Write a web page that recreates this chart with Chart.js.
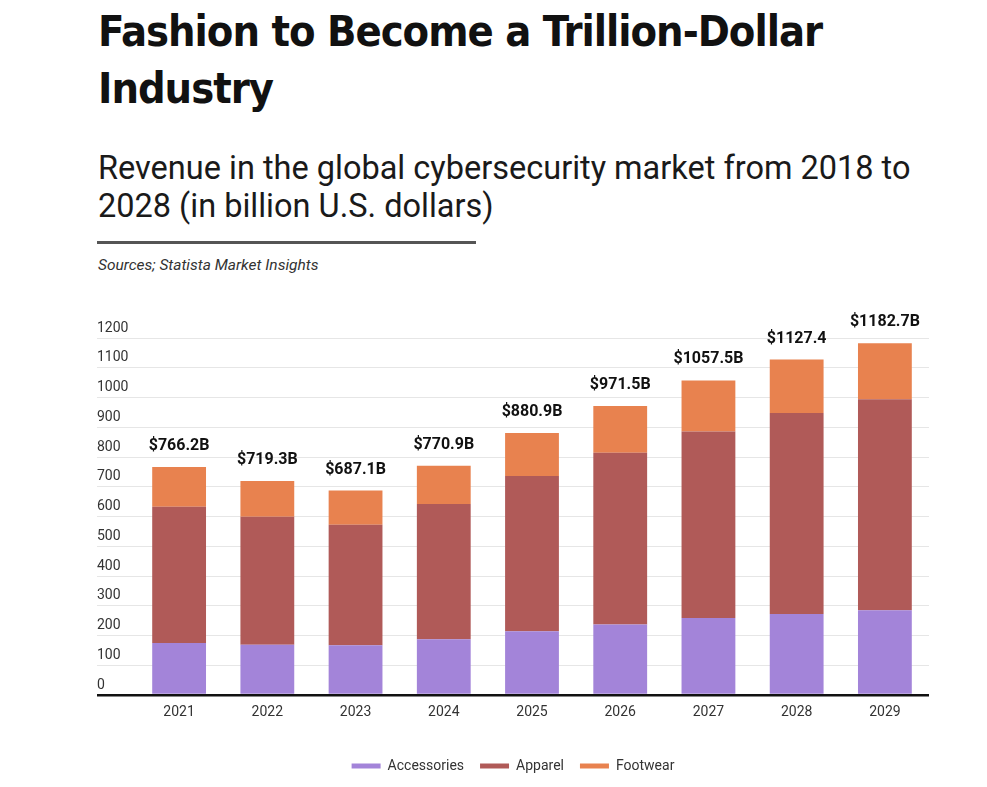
<!DOCTYPE html>
<html>
<head>
<meta charset="utf-8">
<script src="https://cdn.jsdelivr.net/npm/chart.js@4.4.0/dist/chart.umd.min.js"></script>
<style>
  body { margin: 0; background: #fff; width: 987px; height: 787px; overflow: hidden; position: relative; color: #111; }
  .title { position: absolute; left: 98px; top: 3px; margin: 0; font-family: "DejaVu Sans Condensed", "Liberation Sans Narrow", sans-serif; font-weight: bold; font-size: 43px; line-height: 57px; letter-spacing: -1px; }
  .subtitle { position: absolute; left: 98px; top: 149px; margin: 0; font-family: Roboto, sans-serif; font-weight: normal; font-size: 32.5px; line-height: 38px; color: #1a1a1a; }
  .rule { position: absolute; left: 97px; top: 241px; width: 379px; height: 3px; background: #555; }
  .source { position: absolute; left: 98px; top: 256px; font-family: Roboto, sans-serif; font-style: italic; font-size: 15.5px; line-height: 18px; color: #333; }
  .chart-box { position: absolute; left: 0; top: 290px; width: 987px; height: 497px; }
</style>
</head>
<body>
<h1 class="title">Fashion to Become a Trillion-Dollar<br>Industry</h1>
<h2 class="subtitle">Revenue in the global cybersecurity market from 2018 to<br>2028 (in billion U.S. dollars)</h2>
<div class="rule"></div>
<div class="source">Sources; Statista Market Insights</div>
<div class="chart-box"><canvas id="chart"></canvas></div>
<script>
// valeurs (milliards USD)
const years = ['2021', '2022', '2023', '2024', '2025', '2026', '2027', '2028', '2029'];
const accessories = [174.5, 169, 167, 187, 214, 237, 259, 272, 285];
const apparel = [458, 430, 405, 455, 522, 577, 627, 676, 709];
const footwear = [133.7, 120.3, 115.1, 128.9, 144.9, 157.5, 171.5, 179.4, 188.7];
const totalLabels = ['$766.2B', '$719.3B', '$687.1B', '$770.9B', '$880.9B', '$971.5B', '$1057.5B', '$1127.4', '$1182.7B'];

// étiquettes des totaux au-dessus des barres
const totalsPlugin = {
    id: 'totals',
    afterDatasetsDraw(chart) {
        const ctx = chart.ctx;
        const yScale = chart.scales.y;
        const meta = chart.getDatasetMeta(0);
        ctx.save();
        ctx.font = 'bold 16px Roboto';
        ctx.fillStyle = '#111';
        ctx.textAlign = 'center';
        ctx.textBaseline = 'bottom';
        meta.data.forEach((bar, i) => {
            const total = accessories[i] + apparel[i] + footwear[i];
            ctx.fillText(totalLabels[i], bar.x, yScale.getPixelForValue(total) - 13);
        });
        ctx.restore();
    }
};

const ctx = document.getElementById('chart').getContext('2d');
new Chart(ctx, {
    type: 'bar',
    data: {
        labels: years,
        datasets: [
            { label: 'Accessories', data: accessories, backgroundColor: '#a384d9' },
            { label: 'Apparel', data: apparel, backgroundColor: '#b05a58' },
            { label: 'Footwear', data: footwear, backgroundColor: '#e8824f' }
        ]
    },
    options: {
        responsive: true,
        maintainAspectRatio: false,
        animation: false,
        barPercentage: 0.61,
        categoryPercentage: 1.0,
        layout: { padding: { left: 97, right: 58, top: 48, bottom: 4 } },
        plugins: {
            legend: {
                position: 'bottom',
                labels: {
                    boxWidth: 29,
                    boxHeight: 5,
                    padding: 16,
                    color: '#333',
                    font: { family: 'Roboto', size: 14 }
                }
            },
            tooltip: { enabled: false }
        },
        scales: {
            x: {
                stacked: true,
                grid: { display: false },
                border: { display: false },
                ticks: { color: '#333', padding: 1, font: { family: 'Roboto', size: 14 } },
                afterFit: (scale) => { scale.height = 48; }
            },
            y: {
                stacked: true,
                min: 0,
                max: 1200,
                border: { display: false },
                grid: {
                    tickLength: 38,
                    color: (c) => (c.tick && c.tick.value === 0 ? '#111' : '#e6e6e6'),
                    lineWidth: (c) => (c.tick && c.tick.value === 0 ? 2.5 : 1)
                },
                ticks: {
                    stepSize: 100,
                    mirror: true,
                    padding: -38,
                    labelOffset: -10,
                    color: '#333',
                    font: { family: 'Roboto', size: 14 },
                    callback: (v) => String(v)
                },
                afterFit: (scale) => { scale.width = 38; }
            }
        }
    },
    plugins: [totalsPlugin]
});
</script>
</body>
</html>
